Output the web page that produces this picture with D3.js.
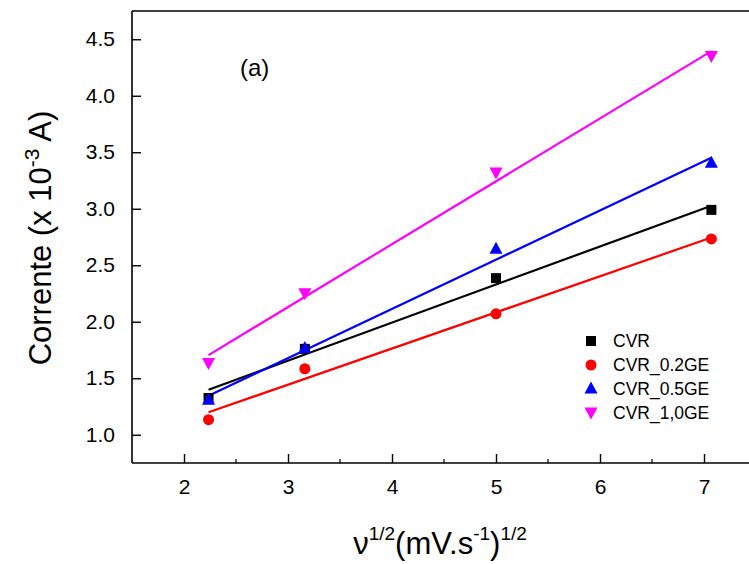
<!DOCTYPE html>
<html><head><meta charset="utf-8">
<script src="https://cdn.jsdelivr.net/npm/d3@7"></script>
<style>body{margin:0;background:#fff}svg{display:block}text{font-family:"Liberation Sans",Arial,sans-serif}</style>
</head><body><svg id="c" width="749" height="564"></svg>
<script>
const xVals = [2.236, 3.162, 5.0, 7.071];
const seriesNames = ["CVR", "CVR_0.2GE", "CVR_0.5GE", "CVR_1,0GE"];
const cvr    = [1.325, 1.76, 2.386, 2.99];
const cvr02  = [1.133, 1.584, 2.07, 2.733];
const cvr05  = [1.31, 1.767, 2.645, 3.408];
const cvr10  = [1.634, 2.253, 3.32, 4.352];
const fitStart = [1.398, 1.199, 1.345, 1.705];
const fitEnd   = [3.027, 2.745, 3.452, 4.395];
const xTicks = [2, 3, 4, 5, 6, 7];
const yTicks = [1.0, 1.5, 2.0, 2.5, 3.0, 3.5, 4.0, 4.5];
const colors = ["#000000", "#ff0000", "#0000ff", "#ff00ff"];
const shapes = ["square", "circle", "up", "down"];
const seriesVals = [cvr, cvr02, cvr05, cvr10];

const svg = d3.select("#c");
const x = d3.scaleLinear().domain([1.5, 7.5]).range([132, 756]);
const y = d3.scaleLinear().domain([0.75, 4.75]).range([463, 11]);

svg.append("line").attr("x1",132).attr("x2",749).attr("y1",11).attr("y2",11).attr("stroke","#000").attr("stroke-width",1.6);
const xAxis = d3.axisBottom(x).tickValues(xTicks).tickSize(-9).tickPadding(16).tickFormat(d3.format("d"));
const gx = svg.append("g").attr("transform","translate(0,463)").call(xAxis);
gx.select(".domain").attr("stroke-width",1.6).attr("d","M132,0H749");
gx.selectAll(".tick line").attr("stroke-width",1.4);
gx.selectAll(".tick text").attr("font-size",21).attr("fill","#000");
const minor = [2.5,3.5,4.5,5.5,6.5];
gx.selectAll(".minor").data(minor).enter().append("line").attr("x1",d=>x(d)).attr("x2",d=>x(d)).attr("y1",0).attr("y2",-4).attr("stroke","#000").attr("stroke-width",1.2);

const yAxis = d3.axisLeft(y).tickValues(yTicks).tickSize(-9).tickPadding(17).tickFormat(d3.format(".1f"));
const gy = svg.append("g").attr("transform","translate(132,0)").call(yAxis);
gy.select(".domain").attr("stroke-width",1.6).attr("d","M0,11V463");
gy.selectAll(".tick line").attr("stroke-width",1.4);
gy.selectAll(".tick text").attr("font-size",21).attr("fill","#000");

seriesVals.forEach((s,i)=>{
  svg.append("line").attr("x1",x(xVals[0])).attr("y1",y(fitStart[i]))
    .attr("x2",x(xVals[3])).attr("y2",y(fitEnd[i]))
    .attr("stroke",colors[i]).attr("stroke-width",2.2);
});

function marker(g, shape, cx, cy, color){
  if(shape==="square") g.append("rect").attr("x",cx-5).attr("y",cy-5).attr("width",10).attr("height",10).attr("fill",color);
  else if(shape==="circle") g.append("circle").attr("cx",cx).attr("cy",cy).attr("r",5.5).attr("fill",color);
  else if(shape==="up") g.append("path").attr("d",`M${cx},${cy-7}L${cx+6.5},${cy+5}L${cx-6.5},${cy+5}Z`).attr("fill",color);
  else g.append("path").attr("d",`M${cx},${cy+7}L${cx+6.5},${cy-5}L${cx-6.5},${cy-5}Z`).attr("fill",color);
}
const pts = svg.append("g");
seriesVals.forEach((s,i)=>{
  s.forEach((v,j)=>marker(pts, shapes[i], x(xVals[j]), y(v), colors[i]));
});

const legY = [341, 365, 388.5, 412.5];
seriesNames.forEach((n,i)=>{
  marker(svg, shapes[i], 591, legY[i], colors[i]);
  svg.append("text").attr("x",613).attr("y",legY[i]+6).attr("font-size",17.5).text(n);
});

svg.append("text").attr("x",240).attr("y",76).attr("font-size",24).text("(a)");

const yl = svg.append("text").attr("transform","translate(51,238) rotate(-90)").attr("text-anchor","middle").attr("font-size",31);
yl.append("tspan").text("Corrente (x 10");
yl.append("tspan").attr("font-size",21).attr("dy",-12).text("-3");
yl.append("tspan").attr("dy",12).text(" A)");

const xl = svg.append("text").attr("x",440).attr("y",554).attr("text-anchor","middle").attr("font-size",31);
xl.append("tspan").text("\u03bd");
xl.append("tspan").attr("font-size",19).attr("dy",-14).text("1/2");
xl.append("tspan").attr("dy",14).text("(mV.s");
xl.append("tspan").attr("font-size",19).attr("dy",-14).text("-1");
xl.append("tspan").attr("dy",14).text(")");
xl.append("tspan").attr("font-size",19).attr("dy",-14).text("1/2");
</script></body></html>
